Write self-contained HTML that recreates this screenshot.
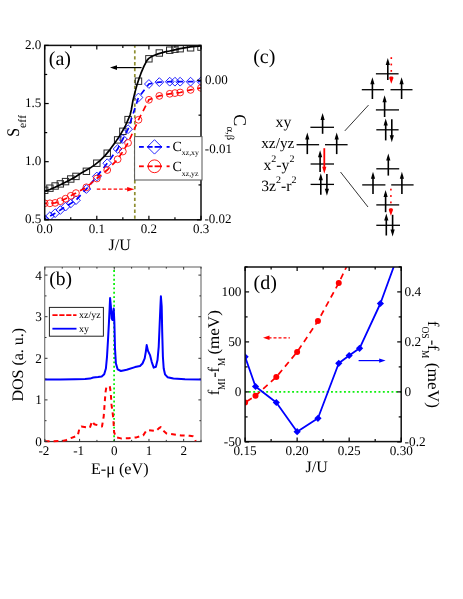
<!DOCTYPE html>
<html><head><meta charset="utf-8"><title>figure</title>
<style>
html,body{margin:0;padding:0;background:#fff;}
body{width:463px;height:599px;overflow:hidden;}
svg{display:block;font-family:"Liberation Serif", serif;will-change:transform;transform:translateZ(0);}
svg text{font-family:"Liberation Serif", serif;text-rendering:geometricPrecision;}
</style></head><body>
<svg width="463" height="599" viewBox="0 0 463 599">
<rect x="0" y="0" width="463" height="599" fill="#fff"/>
<g id="pa">
<clipPath id="clipa"><rect x="44.7" y="45.4" width="156.3" height="174.4"/></clipPath>
<line x1="134.80" y1="45.40" x2="134.80" y2="219.80" stroke="#8e8e30" stroke-width="1.7" stroke-dasharray="3.3 2.6" stroke-dashoffset="1"/>
<g clip-path="url(#clipa)">
<rect x="41.50" y="187.10" width="6.4" height="6.4" fill="none" stroke="#2a2a2a" stroke-width="1.0"/>
<rect x="46.71" y="185.00" width="6.4" height="6.4" fill="none" stroke="#2a2a2a" stroke-width="1.0"/>
<rect x="51.92" y="182.80" width="6.4" height="6.4" fill="none" stroke="#2a2a2a" stroke-width="1.0"/>
<rect x="57.13" y="180.70" width="6.4" height="6.4" fill="none" stroke="#2a2a2a" stroke-width="1.0"/>
<rect x="62.34" y="178.40" width="6.4" height="6.4" fill="none" stroke="#2a2a2a" stroke-width="1.0"/>
<rect x="67.55" y="175.80" width="6.4" height="6.4" fill="none" stroke="#2a2a2a" stroke-width="1.0"/>
<rect x="72.76" y="173.20" width="6.4" height="6.4" fill="none" stroke="#2a2a2a" stroke-width="1.0"/>
<rect x="83.18" y="168.10" width="6.4" height="6.4" fill="none" stroke="#2a2a2a" stroke-width="1.0"/>
<rect x="93.60" y="160.00" width="6.4" height="6.4" fill="none" stroke="#2a2a2a" stroke-width="1.0"/>
<rect x="104.02" y="150.00" width="6.4" height="6.4" fill="none" stroke="#2a2a2a" stroke-width="1.0"/>
<rect x="114.44" y="136.70" width="6.4" height="6.4" fill="none" stroke="#2a2a2a" stroke-width="1.0"/>
<rect x="119.65" y="128.10" width="6.4" height="6.4" fill="none" stroke="#2a2a2a" stroke-width="1.0"/>
<rect x="124.86" y="116.40" width="6.4" height="6.4" fill="none" stroke="#2a2a2a" stroke-width="1.0"/>
<rect x="135.28" y="78.00" width="6.4" height="6.4" fill="none" stroke="#2a2a2a" stroke-width="1.0"/>
<rect x="145.70" y="55.60" width="6.4" height="6.4" fill="none" stroke="#2a2a2a" stroke-width="1.0"/>
<rect x="156.12" y="49.80" width="6.4" height="6.4" fill="none" stroke="#2a2a2a" stroke-width="1.0"/>
<rect x="166.54" y="47.00" width="6.4" height="6.4" fill="none" stroke="#2a2a2a" stroke-width="1.0"/>
<rect x="171.75" y="46.00" width="6.4" height="6.4" fill="none" stroke="#2a2a2a" stroke-width="1.0"/>
<rect x="176.96" y="45.50" width="6.4" height="6.4" fill="none" stroke="#2a2a2a" stroke-width="1.0"/>
<rect x="187.38" y="44.60" width="6.4" height="6.4" fill="none" stroke="#2a2a2a" stroke-width="1.0"/>
<rect x="197.80" y="43.90" width="6.4" height="6.4" fill="none" stroke="#2a2a2a" stroke-width="1.0"/>
<polyline points="44.70,219.00 49.91,216.20 55.12,213.20 60.33,210.00 65.54,206.60 70.75,203.50 75.96,200.20 86.38,189.00 96.80,176.50 107.22,163.20 117.64,149.00 122.85,139.00 128.06,129.20 138.48,97.50 148.90,84.00 159.32,82.10 169.74,81.70 174.95,81.70 180.16,81.70 190.58,81.70 201.00,81.30" fill="none" stroke="#0000ff" stroke-width="1.7" stroke-dasharray="6 4.4" stroke-dashoffset="4.24"/>
<path d="M40.30,219.00 L44.70,214.60 L49.10,219.00 L44.70,223.40 Z" fill="none" stroke="#0000ff" stroke-width="0.85"/>
<path d="M45.51,216.20 L49.91,211.80 L54.31,216.20 L49.91,220.60 Z" fill="none" stroke="#0000ff" stroke-width="0.85"/>
<path d="M50.72,213.20 L55.12,208.80 L59.52,213.20 L55.12,217.60 Z" fill="none" stroke="#0000ff" stroke-width="0.85"/>
<path d="M55.93,210.00 L60.33,205.60 L64.73,210.00 L60.33,214.40 Z" fill="none" stroke="#0000ff" stroke-width="0.85"/>
<path d="M61.14,206.60 L65.54,202.20 L69.94,206.60 L65.54,211.00 Z" fill="none" stroke="#0000ff" stroke-width="0.85"/>
<path d="M66.35,203.50 L70.75,199.10 L75.15,203.50 L70.75,207.90 Z" fill="none" stroke="#0000ff" stroke-width="0.85"/>
<path d="M71.56,200.20 L75.96,195.80 L80.36,200.20 L75.96,204.60 Z" fill="none" stroke="#0000ff" stroke-width="0.85"/>
<path d="M81.98,189.00 L86.38,184.60 L90.78,189.00 L86.38,193.40 Z" fill="none" stroke="#0000ff" stroke-width="0.85"/>
<path d="M92.40,176.50 L96.80,172.10 L101.20,176.50 L96.80,180.90 Z" fill="none" stroke="#0000ff" stroke-width="0.85"/>
<path d="M102.82,163.20 L107.22,158.80 L111.62,163.20 L107.22,167.60 Z" fill="none" stroke="#0000ff" stroke-width="0.85"/>
<path d="M113.24,149.00 L117.64,144.60 L122.04,149.00 L117.64,153.40 Z" fill="none" stroke="#0000ff" stroke-width="0.85"/>
<path d="M118.45,139.00 L122.85,134.60 L127.25,139.00 L122.85,143.40 Z" fill="none" stroke="#0000ff" stroke-width="0.85"/>
<path d="M123.66,129.20 L128.06,124.80 L132.46,129.20 L128.06,133.60 Z" fill="none" stroke="#0000ff" stroke-width="0.85"/>
<path d="M134.08,97.50 L138.48,93.10 L142.88,97.50 L138.48,101.90 Z" fill="none" stroke="#0000ff" stroke-width="0.85"/>
<path d="M144.50,84.00 L148.90,79.60 L153.30,84.00 L148.90,88.40 Z" fill="none" stroke="#0000ff" stroke-width="0.85"/>
<path d="M154.92,82.10 L159.32,77.70 L163.72,82.10 L159.32,86.50 Z" fill="none" stroke="#0000ff" stroke-width="0.85"/>
<path d="M165.34,81.70 L169.74,77.30 L174.14,81.70 L169.74,86.10 Z" fill="none" stroke="#0000ff" stroke-width="0.85"/>
<path d="M170.55,81.70 L174.95,77.30 L179.35,81.70 L174.95,86.10 Z" fill="none" stroke="#0000ff" stroke-width="0.85"/>
<path d="M175.76,81.70 L180.16,77.30 L184.56,81.70 L180.16,86.10 Z" fill="none" stroke="#0000ff" stroke-width="0.85"/>
<path d="M186.18,81.70 L190.58,77.30 L194.98,81.70 L190.58,86.10 Z" fill="none" stroke="#0000ff" stroke-width="0.85"/>
<path d="M196.60,81.30 L201.00,76.90 L205.40,81.30 L201.00,85.70 Z" fill="none" stroke="#0000ff" stroke-width="0.85"/>
<polyline points="44.70,203.30 49.91,203.30 55.12,202.90 60.33,201.20 65.54,198.70 70.75,195.80 75.96,193.10 86.38,187.30 96.80,178.50 107.22,170.00 117.64,159.30 122.85,151.50 128.06,142.90 138.48,119.80 148.90,99.80 159.32,95.90 169.74,93.80 174.95,93.10 180.16,92.50 190.58,89.90 201.00,87.90" fill="none" stroke="#ff0000" stroke-width="1.7" stroke-dasharray="6 4.4" stroke-dashoffset="3.47"/>
<circle cx="44.70" cy="203.30" r="3.4" fill="none" stroke="#ff0000" stroke-width="0.85"/>
<circle cx="49.91" cy="203.30" r="3.4" fill="none" stroke="#ff0000" stroke-width="0.85"/>
<circle cx="55.12" cy="202.90" r="3.4" fill="none" stroke="#ff0000" stroke-width="0.85"/>
<circle cx="60.33" cy="201.20" r="3.4" fill="none" stroke="#ff0000" stroke-width="0.85"/>
<circle cx="65.54" cy="198.70" r="3.4" fill="none" stroke="#ff0000" stroke-width="0.85"/>
<circle cx="70.75" cy="195.80" r="3.4" fill="none" stroke="#ff0000" stroke-width="0.85"/>
<circle cx="75.96" cy="193.10" r="3.4" fill="none" stroke="#ff0000" stroke-width="0.85"/>
<circle cx="86.38" cy="187.30" r="3.4" fill="none" stroke="#ff0000" stroke-width="0.85"/>
<circle cx="96.80" cy="178.50" r="3.4" fill="none" stroke="#ff0000" stroke-width="0.85"/>
<circle cx="107.22" cy="170.00" r="3.4" fill="none" stroke="#ff0000" stroke-width="0.85"/>
<circle cx="117.64" cy="159.30" r="3.4" fill="none" stroke="#ff0000" stroke-width="0.85"/>
<circle cx="122.85" cy="151.50" r="3.4" fill="none" stroke="#ff0000" stroke-width="0.85"/>
<circle cx="128.06" cy="142.90" r="3.4" fill="none" stroke="#ff0000" stroke-width="0.85"/>
<circle cx="138.48" cy="119.80" r="3.4" fill="none" stroke="#ff0000" stroke-width="0.85"/>
<circle cx="148.90" cy="99.80" r="3.4" fill="none" stroke="#ff0000" stroke-width="0.85"/>
<circle cx="159.32" cy="95.90" r="3.4" fill="none" stroke="#ff0000" stroke-width="0.85"/>
<circle cx="169.74" cy="93.80" r="3.4" fill="none" stroke="#ff0000" stroke-width="0.85"/>
<circle cx="174.95" cy="93.10" r="3.4" fill="none" stroke="#ff0000" stroke-width="0.85"/>
<circle cx="180.16" cy="92.50" r="3.4" fill="none" stroke="#ff0000" stroke-width="0.85"/>
<circle cx="190.58" cy="89.90" r="3.4" fill="none" stroke="#ff0000" stroke-width="0.85"/>
<circle cx="201.00" cy="87.90" r="3.4" fill="none" stroke="#ff0000" stroke-width="0.85"/>
<polyline points="44.90,191.20 49.80,189.50 55.00,187.30 61.40,184.30 67.90,181.10 74.40,177.50 80.90,173.30 87.40,169.60 90.00,168.10 95.00,164.60 100.00,160.60 105.00,155.60 110.00,149.60 115.10,142.60 120.10,135.10 125.10,126.50 128.00,119.80 130.10,115.00 131.30,110.00 133.00,100.10 135.00,92.10 137.00,84.80 139.00,78.80 141.00,73.20 144.00,66.20 147.00,60.40 148.80,58.40 152.10,56.20 158.10,53.90 165.00,51.90 169.50,51.00 174.70,49.80 180.00,48.60 190.30,46.90 201.00,45.90" fill="none" stroke="#000" stroke-width="1.7" stroke-linejoin="round"/>
</g>
<rect x="44.7" y="45.4" width="156.3" height="174.4" fill="none" stroke="#111" stroke-width="1.5"/>
<line x1="44.70" y1="219.80" x2="44.70" y2="215.80" stroke="#000" stroke-width="1.2" />
<line x1="44.70" y1="45.40" x2="44.70" y2="49.40" stroke="#000" stroke-width="1.2" />
<line x1="70.75" y1="219.80" x2="70.75" y2="217.30" stroke="#000" stroke-width="1.2" />
<line x1="70.75" y1="45.40" x2="70.75" y2="47.90" stroke="#000" stroke-width="1.2" />
<line x1="96.80" y1="219.80" x2="96.80" y2="215.80" stroke="#000" stroke-width="1.2" />
<line x1="96.80" y1="45.40" x2="96.80" y2="49.40" stroke="#000" stroke-width="1.2" />
<line x1="122.85" y1="219.80" x2="122.85" y2="217.30" stroke="#000" stroke-width="1.2" />
<line x1="122.85" y1="45.40" x2="122.85" y2="47.90" stroke="#000" stroke-width="1.2" />
<line x1="148.90" y1="219.80" x2="148.90" y2="215.80" stroke="#000" stroke-width="1.2" />
<line x1="148.90" y1="45.40" x2="148.90" y2="49.40" stroke="#000" stroke-width="1.2" />
<line x1="174.95" y1="219.80" x2="174.95" y2="217.30" stroke="#000" stroke-width="1.2" />
<line x1="174.95" y1="45.40" x2="174.95" y2="47.90" stroke="#000" stroke-width="1.2" />
<line x1="201.00" y1="219.80" x2="201.00" y2="215.80" stroke="#000" stroke-width="1.2" />
<line x1="201.00" y1="45.40" x2="201.00" y2="49.40" stroke="#000" stroke-width="1.2" />
<line x1="44.70" y1="219.80" x2="48.70" y2="219.80" stroke="#000" stroke-width="1.2" />
<line x1="44.70" y1="190.73" x2="47.20" y2="190.73" stroke="#000" stroke-width="1.2" />
<line x1="44.70" y1="161.67" x2="48.70" y2="161.67" stroke="#000" stroke-width="1.2" />
<line x1="44.70" y1="132.60" x2="47.20" y2="132.60" stroke="#000" stroke-width="1.2" />
<line x1="44.70" y1="103.53" x2="48.70" y2="103.53" stroke="#000" stroke-width="1.2" />
<line x1="44.70" y1="74.47" x2="47.20" y2="74.47" stroke="#000" stroke-width="1.2" />
<line x1="44.70" y1="45.40" x2="48.70" y2="45.40" stroke="#000" stroke-width="1.2" />
<line x1="201.00" y1="219.80" x2="197.00" y2="219.80" stroke="#000" stroke-width="1.2" />
<line x1="201.00" y1="184.92" x2="198.50" y2="184.92" stroke="#000" stroke-width="1.2" />
<line x1="201.00" y1="150.04" x2="197.00" y2="150.04" stroke="#000" stroke-width="1.2" />
<line x1="201.00" y1="115.16" x2="198.50" y2="115.16" stroke="#000" stroke-width="1.2" />
<line x1="201.00" y1="80.28" x2="197.00" y2="80.28" stroke="#000" stroke-width="1.2" />
<line x1="201.00" y1="45.40" x2="198.50" y2="45.40" stroke="#000" stroke-width="1.2" />
<text x="44.70" y="233.00" font-size="13.0" text-anchor="middle" fill="#000" >0.0</text>
<text x="96.80" y="233.00" font-size="13.0" text-anchor="middle" fill="#000" >0.1</text>
<text x="148.90" y="233.00" font-size="13.0" text-anchor="middle" fill="#000" >0.2</text>
<text x="201.00" y="233.00" font-size="13.0" text-anchor="middle" fill="#000" >0.3</text>
<text x="41.30" y="49.30" font-size="13.1" text-anchor="end" fill="#000" >2.0</text>
<text x="41.30" y="107.15" font-size="13.1" text-anchor="end" fill="#000" >1.5</text>
<text x="41.30" y="165.00" font-size="13.1" text-anchor="end" fill="#000" >1.0</text>
<text x="41.30" y="222.85" font-size="13.1" text-anchor="end" fill="#000" >0.5</text>
<text x="204.90" y="84.00" font-size="13.0" text-anchor="start" fill="#000" >0.00</text>
<text x="204.80" y="153.40" font-size="13.0" text-anchor="start" fill="#000" >-0.01</text>
<text x="204.40" y="222.80" font-size="13.0" text-anchor="start" fill="#000" >-0.02</text>
<text x="119.70" y="249.70" font-size="16" text-anchor="middle" fill="#000" >J/U</text>
<text x="48.80" y="64.60" font-size="20" text-anchor="start" fill="#000" >(a)</text>
<g transform="translate(19.3,136.7) rotate(-90)">
<text x="0.00" y="0.00" font-size="17.7" text-anchor="start" fill="#000" transform="scale(0.9,1)">S</text>
<text x="8.60" y="6.60" font-size="11.4" text-anchor="start" fill="#000" letter-spacing="0.35">eff</text>
</g>
<g transform="translate(234.0,114.2) rotate(90)">
<text x="0.00" y="0.00" font-size="17.9" text-anchor="start" fill="#000" >C</text>
<text x="12.40" y="7.20" font-size="10.5" text-anchor="start" fill="#000" >&#945;,&#946;</text>
</g>
<line x1="113.50" y1="67.60" x2="141.60" y2="67.60" stroke="#000" stroke-width="1.2" />
<path d="M110.0,67.6 L117.0,65.3 L117.0,69.9 Z" fill="#000"/>
<line x1="96.80" y1="189.20" x2="128.50" y2="189.20" stroke="#ff0000" stroke-width="1.3" stroke-dasharray="3.5 2.1"/>
<path d="M134.4,189.2 L127.2,187.0 L127.2,191.4 Z" fill="#ff0000"/>
<rect x="134.6" y="136.6" width="67.4" height="43.4" fill="#fff" stroke="#555" stroke-width="1"/>
<line x1="139.00" y1="146.90" x2="143.80" y2="146.90" stroke="#0000ff" stroke-width="1.8" />
<line x1="147.30" y1="146.90" x2="152.60" y2="146.90" stroke="#0000ff" stroke-width="1.8" />
<line x1="154.60" y1="146.90" x2="162.00" y2="146.90" stroke="#0000ff" stroke-width="1.8" />
<line x1="166.60" y1="146.90" x2="169.60" y2="146.90" stroke="#0000ff" stroke-width="1.8" />
<path d="M147.3,146.9 L154.5,139.70000000000002 L161.7,146.9 L154.5,154.1 Z" fill="none" stroke="#0000ff" stroke-width="0.85"/>
<line x1="139.00" y1="166.30" x2="143.80" y2="166.30" stroke="#ff0000" stroke-width="1.8" />
<line x1="147.30" y1="166.30" x2="152.60" y2="166.30" stroke="#ff0000" stroke-width="1.8" />
<line x1="154.60" y1="166.30" x2="162.00" y2="166.30" stroke="#ff0000" stroke-width="1.8" />
<line x1="166.60" y1="166.30" x2="169.60" y2="166.30" stroke="#ff0000" stroke-width="1.8" />
<circle cx="154.5" cy="166.3" r="6.4" fill="none" stroke="#ff0000" stroke-width="0.9"/>
<text x="172.60" y="151.30" font-size="14" text-anchor="start" fill="#000" >C</text>
<text x="181.80" y="155.20" font-size="7.8" text-anchor="start" fill="#000" >xz,xy</text>
<text x="172.60" y="171.20" font-size="14" text-anchor="start" fill="#000" >C</text>
<text x="181.80" y="176.30" font-size="7.8" text-anchor="start" fill="#000" >xz,yz</text>
</g>
<g id="pb">
<line x1="114.10" y1="267.00" x2="114.10" y2="441.50" stroke="#10f010" stroke-width="1.8" stroke-dasharray="1.9 2.45" stroke-dashoffset="1.3"/>
<rect x="44.699999999999996" y="267.0" width="156.29999999999998" height="174.5" fill="none" stroke="#727272" stroke-width="1.15"/>
<line x1="44.30" y1="441.60" x2="201.60" y2="441.60" stroke="#333" stroke-width="1.0" />
<polyline points="45.00,379.40 60.00,379.40 75.00,379.20 85.00,378.90 90.00,378.60 93.30,377.50 98.00,377.00 101.70,376.50 104.20,374.30 105.90,368.50 107.00,356.80 108.00,340.00 108.90,323.40 109.70,306.70 110.10,298.00 110.90,306.70 111.70,318.50 112.50,320.00 113.20,312.00 113.70,308.50 114.40,323.40 115.00,348.40 115.90,363.40 117.60,369.30 120.90,371.00 126.70,369.80 135.00,367.10 140.00,366.00 142.50,363.50 144.70,358.40 145.80,351.80 146.70,345.10 148.00,350.90 150.00,355.10 151.70,361.80 153.70,367.60 155.90,366.80 157.50,360.10 158.70,346.80 159.70,323.40 160.40,306.70 160.90,296.30 161.70,306.70 162.20,331.70 162.90,356.80 163.70,368.50 165.00,374.30 167.50,377.20 173.40,378.50 185.00,379.20 201.00,379.50" fill="none" stroke="#0000ff" stroke-width="2.0" stroke-linejoin="round"/>
<polyline points="45.00,441.30 62.30,441.00 65.70,440.30 70.90,438.10 77.80,435.50 79.60,427.70 81.30,426.50 89.90,427.70 92.00,421.30 94.20,424.20 102.00,426.50 103.70,416.50 104.60,404.40 105.50,392.30 106.30,387.40 109.80,386.20 110.70,392.30 111.50,404.40 113.30,418.20 114.10,432.00 115.80,437.20 121.00,438.40 128.60,438.20 136.40,437.40 143.20,435.40 146.10,431.00 147.10,430.00 155.80,431.00 158.70,428.40 160.70,427.10 162.60,430.00 166.50,433.50 181.10,435.40 189.80,435.80 192.80,436.20 194.70,438.70 195.70,441.10" fill="none" stroke="#ff0000" stroke-width="2.0" stroke-dasharray="4.8 4" stroke-dashoffset="0.2" stroke-linejoin="round"/>
<line x1="44.90" y1="441.50" x2="44.90" y2="438.90" stroke="#333" stroke-width="1.0" />
<line x1="44.90" y1="267.00" x2="44.90" y2="269.60" stroke="#333" stroke-width="1.0" />
<line x1="62.24" y1="441.50" x2="62.24" y2="439.90" stroke="#333" stroke-width="1.0" />
<line x1="62.24" y1="267.00" x2="62.24" y2="268.60" stroke="#333" stroke-width="1.0" />
<line x1="79.59" y1="441.50" x2="79.59" y2="438.90" stroke="#333" stroke-width="1.0" />
<line x1="79.59" y1="267.00" x2="79.59" y2="269.60" stroke="#333" stroke-width="1.0" />
<line x1="96.93" y1="441.50" x2="96.93" y2="439.90" stroke="#333" stroke-width="1.0" />
<line x1="96.93" y1="267.00" x2="96.93" y2="268.60" stroke="#333" stroke-width="1.0" />
<line x1="114.28" y1="441.50" x2="114.28" y2="438.90" stroke="#333" stroke-width="1.0" />
<line x1="114.28" y1="267.00" x2="114.28" y2="269.60" stroke="#333" stroke-width="1.0" />
<line x1="131.62" y1="441.50" x2="131.62" y2="439.90" stroke="#333" stroke-width="1.0" />
<line x1="131.62" y1="267.00" x2="131.62" y2="268.60" stroke="#333" stroke-width="1.0" />
<line x1="148.97" y1="441.50" x2="148.97" y2="438.90" stroke="#333" stroke-width="1.0" />
<line x1="148.97" y1="267.00" x2="148.97" y2="269.60" stroke="#333" stroke-width="1.0" />
<line x1="166.31" y1="441.50" x2="166.31" y2="439.90" stroke="#333" stroke-width="1.0" />
<line x1="166.31" y1="267.00" x2="166.31" y2="268.60" stroke="#333" stroke-width="1.0" />
<line x1="183.66" y1="441.50" x2="183.66" y2="438.90" stroke="#333" stroke-width="1.0" />
<line x1="183.66" y1="267.00" x2="183.66" y2="269.60" stroke="#333" stroke-width="1.0" />
<line x1="201.00" y1="441.50" x2="201.00" y2="439.90" stroke="#333" stroke-width="1.0" />
<line x1="201.00" y1="267.00" x2="201.00" y2="268.60" stroke="#333" stroke-width="1.0" />
<line x1="44.90" y1="441.50" x2="47.50" y2="441.50" stroke="#333" stroke-width="1.0" />
<line x1="201.00" y1="441.50" x2="198.40" y2="441.50" stroke="#333" stroke-width="1.0" />
<line x1="44.90" y1="420.70" x2="46.50" y2="420.70" stroke="#333" stroke-width="1.0" />
<line x1="201.00" y1="420.70" x2="199.40" y2="420.70" stroke="#333" stroke-width="1.0" />
<line x1="44.90" y1="399.90" x2="47.50" y2="399.90" stroke="#333" stroke-width="1.0" />
<line x1="201.00" y1="399.90" x2="198.40" y2="399.90" stroke="#333" stroke-width="1.0" />
<line x1="44.90" y1="379.10" x2="46.50" y2="379.10" stroke="#333" stroke-width="1.0" />
<line x1="201.00" y1="379.10" x2="199.40" y2="379.10" stroke="#333" stroke-width="1.0" />
<line x1="44.90" y1="358.30" x2="47.50" y2="358.30" stroke="#333" stroke-width="1.0" />
<line x1="201.00" y1="358.30" x2="198.40" y2="358.30" stroke="#333" stroke-width="1.0" />
<line x1="44.90" y1="337.50" x2="46.50" y2="337.50" stroke="#333" stroke-width="1.0" />
<line x1="201.00" y1="337.50" x2="199.40" y2="337.50" stroke="#333" stroke-width="1.0" />
<line x1="44.90" y1="316.70" x2="47.50" y2="316.70" stroke="#333" stroke-width="1.0" />
<line x1="201.00" y1="316.70" x2="198.40" y2="316.70" stroke="#333" stroke-width="1.0" />
<line x1="44.90" y1="295.90" x2="46.50" y2="295.90" stroke="#333" stroke-width="1.0" />
<line x1="201.00" y1="295.90" x2="199.40" y2="295.90" stroke="#333" stroke-width="1.0" />
<line x1="44.90" y1="275.10" x2="47.50" y2="275.10" stroke="#333" stroke-width="1.0" />
<line x1="201.00" y1="275.10" x2="198.40" y2="275.10" stroke="#333" stroke-width="1.0" />
<text x="43.90" y="454.80" font-size="13.1" text-anchor="middle" fill="#000" >-2</text>
<text x="78.59" y="454.80" font-size="13.1" text-anchor="middle" fill="#000" >-1</text>
<text x="114.28" y="454.80" font-size="13.1" text-anchor="middle" fill="#000" >0</text>
<text x="148.97" y="454.80" font-size="13.1" text-anchor="middle" fill="#000" >1</text>
<text x="183.66" y="454.80" font-size="13.1" text-anchor="middle" fill="#000" >2</text>
<text x="41.90" y="446.00" font-size="13.2" text-anchor="end" fill="#000" >0</text>
<text x="41.90" y="404.40" font-size="13.2" text-anchor="end" fill="#000" >1</text>
<text x="41.90" y="362.80" font-size="13.2" text-anchor="end" fill="#000" >2</text>
<text x="41.90" y="321.20" font-size="13.2" text-anchor="end" fill="#000" >3</text>
<text x="41.90" y="279.60" font-size="13.2" text-anchor="end" fill="#000" >4</text>
<text x="119.80" y="474.00" font-size="16.2" text-anchor="middle" fill="#000" >E-&#956; (eV)</text>
<text x="49.20" y="284.60" font-size="19.6" text-anchor="start" fill="#000" >(b)</text>
<g transform="translate(22.5,364.7) rotate(-90)">
<text x="0.00" y="0.00" font-size="16" text-anchor="middle" fill="#000" >DOS (a. u.)</text>
</g>
<rect x="49.4" y="307.4" width="54.0" height="28.8" fill="#fff" stroke="#222" stroke-width="1"/>
<line x1="52.40" y1="315.20" x2="76.50" y2="315.20" stroke="#ff0000" stroke-width="1.8" stroke-dasharray="5.2 1.7"/>
<line x1="52.40" y1="328.70" x2="76.50" y2="328.70" stroke="#0000ff" stroke-width="1.8" />
<text x="79.00" y="318.40" font-size="10" text-anchor="start" fill="#000" >xz/yz</text>
<text x="79.00" y="331.60" font-size="10" text-anchor="start" fill="#000" >xy</text>
</g>
<g id="pd">
<clipPath id="clipd"><rect x="245.1" y="267.0" width="156.1" height="174.60000000000002"/></clipPath>
<line x1="245.10" y1="391.80" x2="401.20" y2="391.80" stroke="#10f010" stroke-width="1.8" stroke-dasharray="1.9 2.42" stroke-dashoffset="0.5"/>
<g clip-path="url(#clipd)">
<polyline points="245.10,402.50 255.51,395.80 276.32,377.00 297.13,352.00 317.95,321.00 338.76,283.00 348.80,262.00" fill="none" stroke="#ff0000" stroke-width="1.7" stroke-dasharray="6 4.4" stroke-dashoffset="8.5"/>
<circle cx="245.10" cy="402.50" r="3.0" fill="#ff0000"/>
<circle cx="255.51" cy="395.80" r="3.0" fill="#ff0000"/>
<circle cx="276.32" cy="377.00" r="3.0" fill="#ff0000"/>
<circle cx="297.13" cy="352.00" r="3.0" fill="#ff0000"/>
<circle cx="317.95" cy="321.00" r="3.0" fill="#ff0000"/>
<circle cx="338.76" cy="283.00" r="3.0" fill="#ff0000"/>
<polyline points="245.10,356.80 255.51,386.50 276.32,402.50 297.13,431.70 317.95,418.30 338.76,363.30 349.17,355.50 359.57,348.30 380.39,303.50 396.20,260.00" fill="none" stroke="#0000ff" stroke-width="1.8" stroke-linejoin="round"/>
<path d="M241.50,356.80 L245.10,353.20 L248.70,356.80 L245.10,360.40 Z" fill="#0000ff"/>
<path d="M251.91,386.50 L255.51,382.90 L259.11,386.50 L255.51,390.10 Z" fill="#0000ff"/>
<path d="M272.72,402.50 L276.32,398.90 L279.92,402.50 L276.32,406.10 Z" fill="#0000ff"/>
<path d="M293.53,431.70 L297.13,428.10 L300.73,431.70 L297.13,435.30 Z" fill="#0000ff"/>
<path d="M314.35,418.30 L317.95,414.70 L321.55,418.30 L317.95,421.90 Z" fill="#0000ff"/>
<path d="M335.16,363.30 L338.76,359.70 L342.36,363.30 L338.76,366.90 Z" fill="#0000ff"/>
<path d="M345.57,355.50 L349.17,351.90 L352.77,355.50 L349.17,359.10 Z" fill="#0000ff"/>
<path d="M355.97,348.30 L359.57,344.70 L363.17,348.30 L359.57,351.90 Z" fill="#0000ff"/>
<path d="M376.79,303.50 L380.39,299.90 L383.99,303.50 L380.39,307.10 Z" fill="#0000ff"/>
</g>
<rect x="245.1" y="267.0" width="156.1" height="174.60000000000002" fill="none" stroke="#111" stroke-width="1.5"/>
<line x1="245.10" y1="441.60" x2="245.10" y2="437.60" stroke="#000" stroke-width="1.2" />
<line x1="245.10" y1="267.00" x2="245.10" y2="271.00" stroke="#000" stroke-width="1.2" />
<line x1="271.12" y1="441.60" x2="271.12" y2="439.10" stroke="#000" stroke-width="1.2" />
<line x1="271.12" y1="267.00" x2="271.12" y2="269.50" stroke="#000" stroke-width="1.2" />
<line x1="297.13" y1="441.60" x2="297.13" y2="437.60" stroke="#000" stroke-width="1.2" />
<line x1="297.13" y1="267.00" x2="297.13" y2="271.00" stroke="#000" stroke-width="1.2" />
<line x1="323.15" y1="441.60" x2="323.15" y2="439.10" stroke="#000" stroke-width="1.2" />
<line x1="323.15" y1="267.00" x2="323.15" y2="269.50" stroke="#000" stroke-width="1.2" />
<line x1="349.17" y1="441.60" x2="349.17" y2="437.60" stroke="#000" stroke-width="1.2" />
<line x1="349.17" y1="267.00" x2="349.17" y2="271.00" stroke="#000" stroke-width="1.2" />
<line x1="375.18" y1="441.60" x2="375.18" y2="439.10" stroke="#000" stroke-width="1.2" />
<line x1="375.18" y1="267.00" x2="375.18" y2="269.50" stroke="#000" stroke-width="1.2" />
<line x1="401.20" y1="441.60" x2="401.20" y2="437.60" stroke="#000" stroke-width="1.2" />
<line x1="401.20" y1="267.00" x2="401.20" y2="271.00" stroke="#000" stroke-width="1.2" />
<line x1="245.10" y1="441.90" x2="249.10" y2="441.90" stroke="#000" stroke-width="1.2" />
<line x1="401.20" y1="441.90" x2="397.20" y2="441.90" stroke="#000" stroke-width="1.2" />
<line x1="245.10" y1="416.90" x2="247.60" y2="416.90" stroke="#000" stroke-width="1.2" />
<line x1="401.20" y1="416.90" x2="398.70" y2="416.90" stroke="#000" stroke-width="1.2" />
<line x1="245.10" y1="391.90" x2="249.10" y2="391.90" stroke="#000" stroke-width="1.2" />
<line x1="401.20" y1="391.90" x2="397.20" y2="391.90" stroke="#000" stroke-width="1.2" />
<line x1="245.10" y1="366.90" x2="247.60" y2="366.90" stroke="#000" stroke-width="1.2" />
<line x1="401.20" y1="366.90" x2="398.70" y2="366.90" stroke="#000" stroke-width="1.2" />
<line x1="245.10" y1="341.90" x2="249.10" y2="341.90" stroke="#000" stroke-width="1.2" />
<line x1="401.20" y1="341.90" x2="397.20" y2="341.90" stroke="#000" stroke-width="1.2" />
<line x1="245.10" y1="316.90" x2="247.60" y2="316.90" stroke="#000" stroke-width="1.2" />
<line x1="401.20" y1="316.90" x2="398.70" y2="316.90" stroke="#000" stroke-width="1.2" />
<line x1="245.10" y1="291.90" x2="249.10" y2="291.90" stroke="#000" stroke-width="1.2" />
<line x1="401.20" y1="291.90" x2="397.20" y2="291.90" stroke="#000" stroke-width="1.2" />
<line x1="245.10" y1="266.90" x2="247.60" y2="266.90" stroke="#000" stroke-width="1.2" />
<line x1="401.20" y1="266.90" x2="398.70" y2="266.90" stroke="#000" stroke-width="1.2" />
<text x="245.05" y="455.30" font-size="13.2" text-anchor="middle" fill="#000" >0.15</text>
<text x="297.13" y="455.30" font-size="13.2" text-anchor="middle" fill="#000" >0.20</text>
<text x="349.17" y="455.30" font-size="13.2" text-anchor="middle" fill="#000" >0.25</text>
<text x="401.30" y="455.30" font-size="13.2" text-anchor="middle" fill="#000" >0.30</text>
<text x="241.50" y="446.30" font-size="13.3" text-anchor="end" fill="#000" >-50</text>
<text x="241.50" y="396.30" font-size="13.3" text-anchor="end" fill="#000" >0</text>
<text x="241.50" y="346.30" font-size="13.3" text-anchor="end" fill="#000" >50</text>
<text x="241.50" y="296.30" font-size="13.3" text-anchor="end" fill="#000" >100</text>
<text x="404.60" y="446.30" font-size="13.3" text-anchor="start" fill="#000" >-0.2</text>
<text x="404.60" y="396.30" font-size="13.3" text-anchor="start" fill="#000" >0</text>
<text x="404.60" y="346.30" font-size="13.3" text-anchor="start" fill="#000" >0.2</text>
<text x="404.60" y="296.30" font-size="13.3" text-anchor="start" fill="#000" >0.4</text>
<text x="316.60" y="472.40" font-size="16" text-anchor="middle" fill="#000" >J/U</text>
<text x="253.50" y="289.30" font-size="20" text-anchor="start" fill="#000" >(d)</text>
<g transform="translate(218.8,399.4) rotate(-90)">
<text transform="translate(4.10,0.00) scale(1.0,1)" x="0" y="0" font-size="16.2">f</text>
<text transform="translate(9.50,6.60) scale(0.88,1)" x="0" y="0" font-size="10.6">MI</text>
<text transform="translate(22.00,0.00) scale(1.0,1)" x="0" y="0" font-size="16.2">-</text>
<text transform="translate(26.90,0.00) scale(1.0,1)" x="0" y="0" font-size="16.2">f</text>
<text transform="translate(33.30,6.60) scale(0.88,1)" x="0" y="0" font-size="10.6">M</text>
<text transform="translate(44.80,0.00) scale(1.045,1)" x="0" y="0" font-size="16.3">(meV)</text>
</g>
<g transform="translate(428.2,321.0) rotate(90)">
<text transform="translate(0.00,0.00) scale(1.0,1)" x="0" y="0" font-size="16.2">f</text>
<text transform="translate(5.40,6.40) scale(0.9,1)" x="0" y="0" font-size="10.6">OS</text>
<text transform="translate(19.00,0.00) scale(1.0,1)" x="0" y="0" font-size="16.2">-</text>
<text transform="translate(24.10,0.00) scale(1.0,1)" x="0" y="0" font-size="16.2">f</text>
<text transform="translate(29.10,6.40) scale(0.88,1)" x="0" y="0" font-size="10.6">M</text>
<text transform="translate(41.70,0.00) scale(1.05,1)" x="0" y="0" font-size="16.5">(meV)</text>
</g>
<line x1="268.50" y1="337.80" x2="289.90" y2="337.80" stroke="#ff0000" stroke-width="1.2" stroke-dasharray="3 2"/>
<path d="M263.0,337.8 L269.5,335.6 L269.5,340.0 Z" fill="#ff0000"/>
<line x1="358.60" y1="360.60" x2="380.50" y2="360.60" stroke="#0000ff" stroke-width="1.2" />
<path d="M385.6,360.6 L379.2,358.5 L379.2,362.7 Z" fill="#0000ff"/>
</g>
<g id="pc">
<text x="253.20" y="62.80" font-size="20" text-anchor="start" fill="#000" >(c)</text>
<text x="275.60" y="126.60" font-size="15.8" text-anchor="start" fill="#000" >xy</text>
<text x="261.20" y="147.80" font-size="15.3" text-anchor="start" fill="#000" >xz/yz</text>
<text x="263.5" y="169.8" font-size="15.7">x<tspan font-size="10" dy="-8">2</tspan><tspan dy="8">-y</tspan><tspan font-size="10" dy="-8">2</tspan></text>
<text x="261.2" y="191.4" font-size="15.7">3z<tspan font-size="10" dy="-8">2</tspan><tspan dy="8">-r</tspan><tspan font-size="10" dy="-8">2</tspan></text>
<line x1="310.40" y1="127.30" x2="334.00" y2="127.30" stroke="#000" stroke-width="1.3" />
<line x1="322.60" y1="117.00" x2="322.60" y2="133.80" stroke="#000" stroke-width="1.6" />
<path d="M322.60,113.00 L320.50,120.00 L324.70,120.00 Z" fill="#000"/>
<line x1="296.60" y1="144.70" x2="319.10" y2="144.70" stroke="#000" stroke-width="1.3" />
<line x1="307.30" y1="136.50" x2="307.30" y2="154.10" stroke="#000" stroke-width="1.6" />
<path d="M307.30,132.50 L305.20,139.50 L309.40,139.50 Z" fill="#000"/>
<line x1="325.00" y1="144.70" x2="347.60" y2="144.70" stroke="#000" stroke-width="1.3" />
<line x1="336.70" y1="136.50" x2="336.70" y2="154.10" stroke="#000" stroke-width="1.6" />
<path d="M336.70,132.50 L334.60,139.50 L338.80,139.50 Z" fill="#000"/>
<line x1="310.60" y1="164.00" x2="334.00" y2="164.00" stroke="#000" stroke-width="1.3" />
<line x1="320.10" y1="154.30" x2="320.10" y2="172.00" stroke="#000" stroke-width="1.6" />
<path d="M320.10,150.30 L318.00,157.30 L322.20,157.30 Z" fill="#000"/>
<line x1="324.30" y1="148.20" x2="324.30" y2="169.80" stroke="#ff0000" stroke-width="1.8" />
<path d="M324.30,173.80 L322.20,166.80 L326.40,166.80 Z" fill="#ff0000"/>
<line x1="310.60" y1="184.40" x2="334.00" y2="184.40" stroke="#000" stroke-width="1.3" />
<line x1="320.80" y1="177.20" x2="320.80" y2="194.80" stroke="#000" stroke-width="1.6" />
<path d="M320.80,173.20 L318.70,180.20 L322.90,180.20 Z" fill="#000"/>
<line x1="326.90" y1="174.00" x2="326.90" y2="191.80" stroke="#000" stroke-width="1.6" />
<path d="M326.90,195.80 L324.80,188.80 L329.00,188.80 Z" fill="#000"/>
<line x1="344.80" y1="130.90" x2="368.50" y2="105.10" stroke="#000" stroke-width="0.8" />
<line x1="340.50" y1="172.00" x2="368.00" y2="207.00" stroke="#000" stroke-width="0.8" />
<line x1="375.90" y1="73.80" x2="398.60" y2="73.80" stroke="#000" stroke-width="1.3" />
<line x1="387.80" y1="62.00" x2="387.80" y2="80.00" stroke="#000" stroke-width="1.6" />
<path d="M387.80,58.00 L385.70,65.00 L389.90,65.00 Z" fill="#000"/>
<rect x="390.50" y="57.20" width="1.6" height="1.8" fill="#ff0000"/>
<rect x="390.50" y="63.60" width="1.6" height="1.8" fill="#ff0000"/>
<rect x="390.50" y="70.00" width="1.6" height="1.8" fill="#ff0000"/>
<path d="M391.30,83.80 L389.10,77.80 L390.10,76.40 L392.50,76.40 L393.50,77.80 Z" fill="#ff0000"/>
<line x1="361.80" y1="89.70" x2="383.90" y2="89.70" stroke="#000" stroke-width="1.3" />
<line x1="372.40" y1="81.20" x2="372.40" y2="99.00" stroke="#000" stroke-width="1.6" />
<path d="M372.40,77.20 L370.30,84.20 L374.50,84.20 Z" fill="#000"/>
<line x1="390.50" y1="89.70" x2="412.50" y2="89.70" stroke="#000" stroke-width="1.3" />
<line x1="401.60" y1="81.20" x2="401.60" y2="99.00" stroke="#000" stroke-width="1.6" />
<path d="M401.60,77.20 L399.50,84.20 L403.70,84.20 Z" fill="#000"/>
<line x1="375.90" y1="109.90" x2="399.00" y2="109.90" stroke="#000" stroke-width="1.3" />
<line x1="384.60" y1="99.30" x2="384.60" y2="117.00" stroke="#000" stroke-width="1.6" />
<path d="M384.60,95.30 L382.50,102.30 L386.70,102.30 Z" fill="#000"/>
<line x1="376.30" y1="129.80" x2="398.60" y2="129.80" stroke="#000" stroke-width="1.3" />
<line x1="385.70" y1="122.40" x2="385.70" y2="140.40" stroke="#000" stroke-width="1.6" />
<path d="M385.70,118.40 L383.60,125.40 L387.80,125.40 Z" fill="#000"/>
<line x1="391.80" y1="119.20" x2="391.80" y2="138.30" stroke="#000" stroke-width="1.6" />
<path d="M391.80,142.30 L389.70,135.30 L393.90,135.30 Z" fill="#000"/>
<line x1="376.30" y1="168.80" x2="399.20" y2="168.80" stroke="#000" stroke-width="1.3" />
<line x1="388.30" y1="157.40" x2="388.30" y2="175.60" stroke="#000" stroke-width="1.6" />
<path d="M388.30,153.40 L386.20,160.40 L390.40,160.40 Z" fill="#000"/>
<line x1="362.20" y1="184.90" x2="385.40" y2="184.90" stroke="#000" stroke-width="1.3" />
<line x1="373.00" y1="175.80" x2="373.00" y2="194.10" stroke="#000" stroke-width="1.6" />
<path d="M373.00,171.80 L370.90,178.80 L375.10,178.80 Z" fill="#000"/>
<line x1="391.20" y1="184.90" x2="413.60" y2="184.90" stroke="#000" stroke-width="1.3" />
<line x1="401.90" y1="175.80" x2="401.90" y2="194.10" stroke="#000" stroke-width="1.6" />
<path d="M401.90,171.80 L399.80,178.80 L404.00,178.80 Z" fill="#000"/>
<line x1="376.30" y1="204.90" x2="399.20" y2="204.90" stroke="#000" stroke-width="1.3" />
<line x1="385.60" y1="194.00" x2="385.60" y2="212.20" stroke="#000" stroke-width="1.6" />
<path d="M385.60,190.00 L383.50,197.00 L387.70,197.00 Z" fill="#000"/>
<rect x="390.10" y="188.70" width="1.6" height="1.8" fill="#ff0000"/>
<rect x="390.10" y="195.10" width="1.6" height="1.8" fill="#ff0000"/>
<rect x="390.10" y="201.50" width="1.6" height="1.8" fill="#ff0000"/>
<path d="M390.90,215.70 L388.70,209.70 L389.70,208.30 L392.10,208.30 L393.10,209.70 Z" fill="#ff0000"/>
<line x1="376.30" y1="225.30" x2="400.00" y2="225.30" stroke="#000" stroke-width="1.3" />
<line x1="386.30" y1="217.60" x2="386.30" y2="235.50" stroke="#000" stroke-width="1.6" />
<path d="M386.30,213.60 L384.20,220.60 L388.40,220.60 Z" fill="#000"/>
<line x1="392.60" y1="214.80" x2="392.60" y2="232.50" stroke="#000" stroke-width="1.6" />
<path d="M392.60,236.50 L390.50,229.50 L394.70,229.50 Z" fill="#000"/>
</g>
</svg>
</body></html>
